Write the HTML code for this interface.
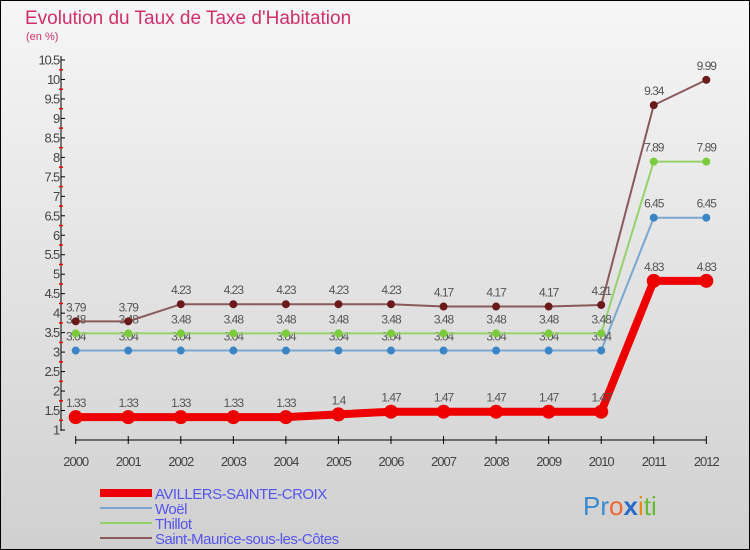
<!DOCTYPE html>
<html><head><meta charset="utf-8"><style>
body{margin:0;width:750px;height:550px;overflow:hidden;font-family:"Liberation Sans",sans-serif}
#c{position:absolute;left:0;top:0;width:748px;height:548px;border:1px solid #000;background:linear-gradient(#f6f6f6,#d0d0d0)}
</style></head><body>
<div id="c"></div>
<svg id="s" width="750" height="550" style="position:absolute;left:0;top:0">
<text x="25" y="24" font-size="19" fill="#d0306a">Evolution du Taux de Taxe d'Habitation</text>
<text x="26" y="40" font-size="11" fill="#d0306a">(en %)</text>
<g id="axes"></g><g id="series"></g>
<g>
<rect x="100" y="489" width="52" height="8" fill="#e00"/>
<text x="155" y="499" font-size="15" fill="#5555ee" letter-spacing="-0.5">AVILLERS-SAINTE-CROIX</text>
<rect x="100" y="507" width="52" height="2" fill="#7aa7cf"/>
<text x="155" y="514" font-size="15" fill="#5555ee" letter-spacing="-0.5">Woël</text>
<rect x="100" y="522" width="52" height="2" fill="#96d26b"/>
<text x="155" y="529" font-size="15" fill="#5555ee" letter-spacing="-0.5">Thillot</text>
<rect x="100" y="537" width="52" height="2" fill="#8a5a5a"/>
<text x="155" y="544" font-size="15" fill="#5555ee" letter-spacing="-0.5">Saint-Maurice-sous-les-Côtes</text>
</g>
<text x="583" y="515" font-size="26"><tspan fill="#3a8ad0">Pr</tspan><tspan fill="#e63">o</tspan><tspan fill="#2a6ac8" font-weight="bold">x</tspan><tspan fill="#e88a10">i</tspan><tspan fill="#6b3">ti</tspan></text>
</svg>
<script>
const years=[2000,2001,2002,2003,2004,2005,2006,2007,2008,2009,2010,2011,2012];
const avillers=[1.33,1.33,1.33,1.33,1.33,1.4,1.47,1.47,1.47,1.47,1.47,4.83,4.83];
const woel=[3.04,3.04,3.04,3.04,3.04,3.04,3.04,3.04,3.04,3.04,3.04,6.45,6.45];
const thillot=[3.48,3.48,3.48,3.48,3.48,3.48,3.48,3.48,3.48,3.48,3.48,7.89,7.89];
const stmaurice=[3.79,3.79,4.23,4.23,4.23,4.23,4.23,4.17,4.17,4.17,4.21,9.34,9.99];
const yTicks=[1,1.5,2,2.5,3,3.5,4,4.5,5,5.5,6,6.5,7,7.5,8,8.5,9,9.5,10,10.5];
const NS="http://www.w3.org/2000/svg";
const X=i=>75.7+i*52.55;
const Y=v=>430-(v-1)*38.95;
function mk(t,a,p){const e=document.createElementNS(NS,t);for(const k in a)e.setAttribute(k,a[k]);p.appendChild(e);return e;}
const ax=document.getElementById('axes');
let l=mk('line',{x1:61,y1:56,x2:61,y2:431,stroke:'#000'},ax);


yTicks.forEach((v,k)=>{
 mk('line',{x1:61,y1:Y(v),x2:65,y2:Y(v),stroke:'#000'},ax);
 if(k<yTicks.length-1) mk('line',{x1:59,y1:Y(v)-9.7,x2:63,y2:Y(v)-9.7,stroke:'#e00','stroke-width':1.5},ax);
 const t=mk('text',{x:59,y:Y(v)+4.5,'font-size':13,'text-anchor':'end',fill:'#444','letter-spacing':'-1.2'},ax);
 
 
 t.textContent=v;
});
l=mk('line',{x1:X(0),y1:440,x2:X(12),y2:440,stroke:'#000'},ax);


years.forEach((y,i)=>{
 mk('line',{x1:X(i),y1:436,x2:X(i),y2:444,stroke:'#000'},ax);
 const t=mk('text',{x:X(i),y:466,'font-size':13,'text-anchor':'middle',fill:'#444','letter-spacing':'-1'},ax);
 
 
 t.textContent=y;
});
const sg=document.getElementById('series');
function draw(vals,color,dot,w,r,name){
 const g=mk('g',{},sg);
 
 
 const p=mk('polyline',{points:vals.map((v,i)=>X(i)+','+Y(v)).join(' '),fill:'none',stroke:color,'stroke-width':w},g);
 
 
 vals.forEach((v,i)=>{
  const c=mk('circle',{cx:X(i),cy:Y(v),r:r,fill:dot},g);
  
  
  const t=mk('text',{x:X(i),y:Y(v)-10,'font-size':12,'text-anchor':'middle',fill:'#555','letter-spacing':'-1'},g);
  
  
  t.textContent=v;
 });
}
draw(woel,'#7aa7cf','#3a85c5',2,4,'woel');
draw(thillot,'#96d26b','#7acc3a',2,4,'thillot');
draw(stmaurice,'#8a5a5a','#6a1a1a',2,4,'saint-maurice');
draw(avillers,'#ee0000','#ee0000',8,7,'avillers');
</script>
</body></html>
